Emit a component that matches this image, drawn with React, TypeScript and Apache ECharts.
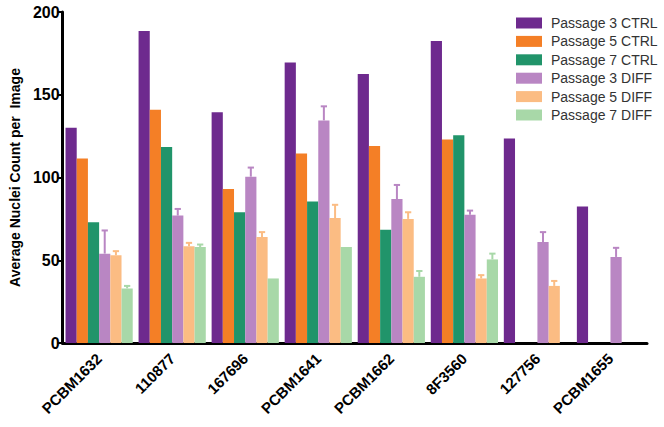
import React, { useEffect, useRef } from "react";
import * as echarts from "echarts";

const categories = ["PCBM1632", "110877", "167696", "PCBM1641", "PCBM1662", "8F3560", "127756", "PCBM1655"];
const seriesNames = ["Passage 3 CTRL", "Passage 5 CTRL", "Passage 7 CTRL", "Passage 3 DIFF", "Passage 5 DIFF", "Passage 7 DIFF"];
const colors = ["#6e2a8e", "#f47f26", "#21946a", "#b986c3", "#fbbc83", "#a8d8a8"];

const p3Ctrl = [130, 188.5, 139.5, 169.5, 162.5, 182.5, 123.5, 82.5];
const p5Ctrl = [111.5, 141, 93, 114.5, 119, 123, null, null];
const p7Ctrl = [73, 118.5, 79, 85.5, 68.5, 125.5, null, null];
const p3Diff = [54, 77, 100.5, 134.5, 87, 77.5, 61, 52];
const p5Diff = [53, 58.5, 64, 75.5, 75, 39, 34.5, null];
const p7Diff = [33, 58, 39, 58, 40, 50.5, null, null];

const p3DiffErr = [14, 4, 5.5, 8.5, 8.5, 2.5, 6, 5.5];
const p5DiffErr = [2.5, 2, 3, 8, 4, 2, 3, null];
const p7DiffErr = [1.5, 1.5, 0, 0, 3.5, 3.5, null, null];

const yTicks = [0, 50, 100, 150, 200];

const allValues = [p3Ctrl, p5Ctrl, p7Ctrl, p3Diff, p5Diff, p7Diff];
const diffErrors: [number, (number | null)[], (number | null)[]][] = [
  [3, p3Diff, p3DiffErr],
  [4, p5Diff, p5DiffErr],
  [5, p7Diff, p7DiffErr],
];

const CAT_GAP = 0.08;
const FONT = "'Liberation Sans', Arial, Helvetica, sans-serif";

export default function App() {
  const ref = useRef<HTMLDivElement>(null);
  useEffect(() => {
    if (!ref.current) return;
    const chart = echarts.init(ref.current, null, { renderer: "svg" });

    const barSeries = seriesNames.map((name, i) => ({
      name,
      type: "bar",
      data: allValues[i],
      itemStyle: { color: colors[i] },
      barGap: "0%",
      barCategoryGap: CAT_GAP * 100 + "%",
      z: 2,
    }));

    const errSeries = diffErrors.map(([idx, means, errs]) => ({
      type: "custom",
      name: seriesNames[idx],
      z: 3,
      silent: true,
      data: categories.map((_, j) =>
        means[j] == null || errs[j] == null || errs[j] === 0 ? [j, null, null] : [j, means[j], (means[j] as number) + (errs[j] as number)]
      ),
      encode: { x: 0, y: [1, 2] },
      renderItem: (params: any, api: any) => {
        const mean = api.value(1);
        const top = api.value(2);
        if (mean == null || top == null || isNaN(mean) || isNaN(top)) return null;
        const band = api.size([1, 0])[0];
        const bw = (band * (1 - CAT_GAP)) / 6;
        const c = api.coord([api.value(0), mean]);
        const t = api.coord([api.value(0), top]);
        const x = c[0] + (idx - 2.5) * bw;
        const half = bw * 0.28;
        return {
          type: "group",
          children: [
            { type: "line", shape: { x1: x, y1: c[1], x2: x, y2: t[1] }, style: { stroke: colors[idx], lineWidth: 2 } },
            { type: "line", shape: { x1: x - half, y1: t[1], x2: x + half, y2: t[1] }, style: { stroke: colors[idx], lineWidth: 2 } },
          ],
        };
      },
    }));

    chart.setOption({
      animation: false,
      textStyle: { fontFamily: FONT },
      grid: { left: 60, right: 17, top: 12, bottom: 84, containLabel: false },
      legend: {
        orient: "vertical",
        left: 511,
        top: 10,
        itemWidth: 26,
        itemHeight: 11,
        itemGap: 2.4,
        icon: "rect",
        data: seriesNames,
        textStyle: { fontSize: 14, color: "#333", fontFamily: FONT, lineHeight: 16, padding: [0, 0, 0, 4] },
      },
      xAxis: {
        type: "category",
        data: categories,
        axisLine: { lineStyle: { color: "#000", width: 3 } },
        axisTick: { alignWithLabel: true, length: 8, lineStyle: { color: "#000", width: 2 } },
        axisLabel: {
          rotate: 45,
          interval: 0,
          margin: 13,
          fontSize: 15,
          fontWeight: "bold",
          color: "#000",
          fontFamily: FONT,
        },
      },
      yAxis: {
        type: "value",
        min: yTicks[0],
        max: yTicks[yTicks.length - 1],
        interval: 50,
        name: "Average Nuclei Count per  Image",
        nameLocation: "middle",
        nameGap: 40,
        nameTextStyle: { fontSize: 14, fontWeight: "bold", color: "#000", fontFamily: FONT },
        splitLine: { show: false },
        axisLine: { show: true, lineStyle: { color: "#000", width: 3 } },
        axisTick: { show: true, length: 5, lineStyle: { color: "#000", width: 2 } },
        axisLabel: { fontSize: 16, fontWeight: "bold", color: "#000", margin: 3, fontFamily: FONT },
      },
      series: [...barSeries, ...errSeries],
    });
    return () => chart.dispose();
  }, []);
  return <div ref={ref} style={{ width: 664, height: 427, position: "absolute", left: 0, top: 0 }} />;
}
